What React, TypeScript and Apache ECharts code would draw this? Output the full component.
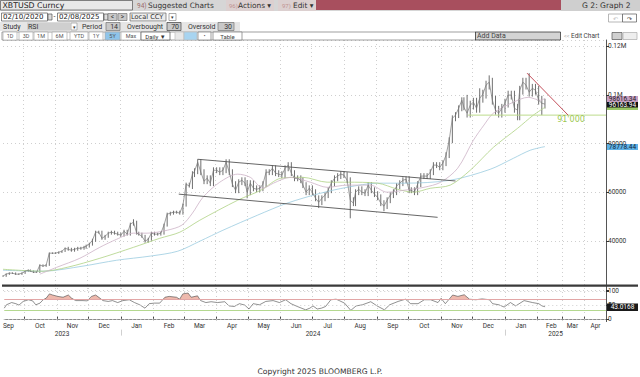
import React, { useEffect, useRef } from "react";
import * as echarts from "echarts";

// Prices are read in thousands of USD
const closes = [25.7,26.5,26.9,26.9,26.5,26.5,26.9,27.7,28.1,27.7,27.3,27.3,30.2,29.8,30.2,35.1,35.1,35.1,35.5,35.9,37.1,36.7,36.3,36.7,37.1,37.1,37.5,38,38.8,40.4,43.7,43.7,41.2,42,43.3,43.7,43.3,42.9,42.5,44.1,42.9,47,47.8,43.3,42.9,42,40,40.8,43.3,42.9,42.9,43.3,46.6,51.1,51.5,51.9,51.9,51.5,54.8,63.4,62.6,67.5,68.7,72.4,68.3,64.6,65.8,63.8,69.1,69.1,68.3,69.1,72.4,68.3,63.4,60.9,64.2,65,63.8,60.1,63.8,61.7,61.3,61.7,63.4,68.3,68.3,69.9,67.9,67.5,67.1,69.9,71.2,67.9,65.8,65.8,65,63,60.1,61.7,60.1,57.6,56,57.6,58.9,60.9,63.8,65.8,66.7,67.5,67.1,65,56.8,55.6,60.1,61.3,60.1,59.7,63,60.9,59.3,58,55.6,54.4,56.8,58.9,60.1,62.6,63.8,65,65.4,60.9,60.9,60.1,63.4,66.7,66.7,66.7,68.3,71.2,71.2,70.3,72,75.3,81.4,90.4,91.7,94.5,97.8,94.9,92.5,95.8,97,94.5,98.6,100.3,104,105.2,97.8,93.7,92.5,94.5,96.6,99.9,99.9,94.5,93.7,101.9,105.2,104,101.1,102.7,101.9,97.8,96.6,96.2];
const lastPriceDay = 515;
// wick length, by stretch of the chart: [first day, thousands]
const wickStretches = [[0,0.3],[60,0.6],[180,1.2],[440,1.8]];
// extremes that stand out: [day, low or high, thousands]
const spikes: [number,"low"|"high",number][] = [[330,"low",49.4],[233,"low",57.6],[299,"low",53.6],[363,"low",52.3],[511,"low",91.7],[490,"low",89.6],[499,"high",108.9],[463,"high",108],[452,"high",102.7],[440,"high",100],[123,"high",49],[184,"high",73.2],[211,"high",73.2]];

const ma50: [number,number][] = [[35,26.5],[51,29.3],[73,33],[92,37.5],[108,40.8],[124,43.3],[137,43.3],[156,44.5],[170,46.6],[180,51.5],[190,58],[206,64.2],[223,67.5],[235,66.2],[247,61.7],[257,63.8],[273,66.2],[292,64.2],[308,62.1],[327,63],[349,63],[365,60.1],[381,60.9],[400,62.1],[416,64.2],[432,69.9],[447,81.4],[457,87.6],[466,92.5],[485,97],[499,99],[511,97.8],[515,98.6]];
const ma100: [number,number][] = [[0,28.5],[38,27.7],[61,29.3],[92,33],[124,37.5],[149,41.2],[168,43.7],[187,48.6],[223,56.8],[245,60.9],[264,65.8],[285,66.2],[308,64.2],[327,64.2],[356,63.8],[375,61.3],[390,60.1],[406,61.7],[425,63],[444,69.1],[466,78.5],[489,86.3],[504,91.7],[515,94.9]];
const ma200: [number,number][] = [[0,28.1],[38,27.7],[76,29.8],[108,32.2],[140,33.9],[166,35.9],[187,40],[209,44.5],[242,50.7],[270,55.6],[302,59.7],[327,62.1],[356,63.8],[381,63.8],[425,65],[463,69.5],[485,74],[501,77.3],[515,78.8]];

const channelTop: [number,number][] = [[185,73.6],[430,64.7]];
const channelBottom: [number,number][] = [[167,59.3],[413,49.8]];
const redTrend: [number,number][] = [[498,108.9],[537,91.7]];
const supportLine: [number,number][] = [[442,91.7],[573,91.7]];

const rsi: [number,number][] = [[0,38],[2,50],[7,58],[11,54],[14,49],[18,62],[23,68],[27,64],[30,50],[34,56],[37,68],[40,74],[43,89],[46,85],[51,80],[56,77],[61,85],[64,74],[68,65],[75,65],[79,64],[83,80],[87,85],[91,74],[94,65],[99,62],[103,65],[108,58],[113,65],[119,68],[124,58],[129,50],[134,38],[138,54],[143,56],[148,56],[153,77],[157,80],[164,77],[167,70],[170,89],[175,92],[178,77],[184,82],[187,65],[192,58],[197,61],[203,58],[210,61],[214,46],[219,44],[224,54],[229,49],[233,35],[237,54],[243,50],[249,62],[256,65],[262,58],[268,68],[273,54],[279,44],[287,32],[291,38],[294,46],[298,35],[302,38],[306,44],[311,68],[316,70],[319,65],[324,56],[330,30],[335,46],[341,50],[349,61],[355,46],[362,32],[367,50],[375,62],[382,70],[387,54],[394,54],[400,68],[406,68],[413,58],[416,73],[420,54],[427,85],[432,80],[438,86],[443,70],[449,68],[455,71],[462,68],[465,54],[471,50],[476,42],[482,58],[487,46],[495,65],[503,58],[509,54],[512,46],[515,43]];

const yearLabels: Record<string,string> = { "2023-11-06": "2023", "2024-07-02": "2024", "2025-02-21": "2025" };
const monthNames = ["Jan","Feb","Mar","Apr","May","Jun","Jul","Aug","Sep","Oct","Nov","Dec"];
const FONT = "Roboto";

// Daily calendar up to the last bar, then weekdays only, as the terminal draws the future
const categories: string[] = [];
{
  let t = Date.UTC(2023, 8, 12);
  const lastBar = Date.UTC(2025, 1, 8);
  while (categories.length < 574) {
    const d = new Date(t);
    if (t <= lastBar || (d.getUTCDay() !== 0 && d.getUTCDay() !== 6)) categories.push(d.toISOString().slice(0, 10));
    t += 86400000;
  }
}
const monthStart = new Set<number>();
const monthMid = new Set<number>();
{
  let seen = "";
  categories.forEach((c, i) => {
    const m = c.slice(0, 7);
    if (i > 0 && c.slice(0, 7) !== categories[i - 1].slice(0, 7)) monthStart.add(i);
    if (m !== seen && +c.slice(8) >= 16) { monthMid.add(i); seen = m; }
  });
}
const yearStart = new Set<number>(categories.map((c, i) => (c.endsWith("-01-01") ? i : -1)).filter((i) => i >= 0));
const k = (p: [number, number][]) => p.map(([d, v]) => [d, v * 1000]);

const bars = closes.map((c, i) => {
  const day = Math.round((i * lastPriceDay) / (closes.length - 1));
  const prev = i > 0 ? closes[i - 1] : c;
  let wick = 0;
  wickStretches.forEach(([from, w]) => { if (day >= from) wick = w; });
  let low = Math.min(c, prev) - wick;
  let high = Math.max(c, prev) + wick;
  const step = lastPriceDay / (closes.length - 1);
  spikes.forEach(([d, kind, v]) => {
    if (Math.abs(d - day) <= step / 2) { if (kind === "low") low = Math.min(low, v); else high = Math.max(high, v); }
  });
  return [day, low * 1000, high * 1000, c * 1000];
});

// the part of the RSI over its overbought level, closed at the level
const overbought: [number, number][] = [];
rsi.forEach(([d, v], i) => {
  if (i > 0) {
    const [pd, pv] = rsi[i - 1];
    if ((pv - 70) * (v - 70) < 0) overbought.push([Math.round(pd + ((70 - pv) / (v - pv)) * (d - pd)), 70]);
  }
  overbought.push([d, Math.max(v, 70)]);
});

const DV = { fontFamily: "DejaVu Sans" };
const txt = (x: number, y: number, text: string, fontSize = 6.5, fill = "#333", align = "left", extra: any = {}) => ({
  type: "text", z: 50, style: { x, y, text, fontSize, fill, fontFamily: FONT, textAlign: align, textVerticalAlign: "middle", ...extra },
});
const box = (x: number, y: number, width: number, height: number, fill: string, stroke?: string) => ({
  type: "rect", z: 49, shape: { x, y, width, height }, style: { fill, stroke: stroke || undefined, lineWidth: 0.7 },
});

const rangeButtons: [string, number, number][] = [["1D",3,14],["3D",19,14],["1M",34,14],["6M",52,15],["YTD",70,18],["1Y",89,14],["5Y",105,15],["Max",121,20]];

const header = [
  box(0, 0, 640, 11, "#d6d6d6"),
  box(0.5, 0.5, 132, 9.5, "#e8e8e8", "#555"),
  txt(2.5, 5.5, "XBTUSD Curncy", 7.8, "#222", "left", DV),
  txt(137, 5.5, "94)", 6.5, "#9a6a6a"),
  txt(148, 5, "Suggested Charts", 7.4, "#333", "left", DV),
  box(226, 0, 48, 11, "#dcd0d0"),
  txt(229, 5.5, "96)", 6, "#c09090"),
  txt(238, 5, "Actions ▾", 7.4, "#333", "left", DV),
  box(278, 0, 38, 11, "#dcd0d0"),
  txt(282, 5.5, "97)", 6, "#c09090"),
  txt(293, 5, "Edit ▾", 7.4, "#333", "left", DV),
  box(316, 0, 245, 10, "#a84f5e"),
  box(561, 0, 79, 11, "#cfcfcf"),
  txt(582, 5, "G 2: Graph 2", 7.6, "#333", "left", DV),
  box(1.5, 13, 46, 8, "#fff", "#555"),
  txt(3, 17, "02/10/2020", 7, "#222", "left", DV),
  box(48, 14, 4, 6, "#ddd", "#555"),
  txt(53.5, 17, "-", 7),
  box(57.5, 13, 46, 8, "#fff", "#555"),
  txt(59, 17, "02/08/2025", 7, "#222", "left", DV),
  box(104, 14, 4, 6, "#ddd", "#555"),
  box(108, 13.5, 9, 7, "#c8c8c8", "#777"),
  txt(112.5, 17, "<", 6.5, "#333", "center"),
  box(118, 13.5, 9, 7, "#c8c8c8", "#777"),
  txt(122.5, 17, ">", 6.5, "#333", "center"),
  box(130, 13, 36, 8, "#ececec", "#666"),
  txt(131, 17, "Local CCY", 6.6, "#333", "left", DV),
  box(169, 13.5, 7, 7, "#fff", "#888"),
  txt(172.5, 17, "▾", 5, "#333", "center"),
  box(0, 22, 240, 9, "#e6e6e6"),
  txt(3, 26.5, "Study", 7),
  box(27, 22.5, 43, 8, "#cfcfcf"),
  txt(28, 26.5, "RSI", 7),
  box(71, 23, 6, 7, "#fff", "#999"),
  txt(74, 26.5, "▾", 5, "#333", "center"),
  txt(82, 26.5, "Period", 7),
  box(106, 22.5, 14, 8, "#c8c8c8", "#777"),
  txt(118, 26.5, "14", 7, "#333", "right"),
  txt(127, 26.5, "Overbought", 7),
  box(167, 22.5, 14, 8, "#c8c8c8", "#444"),
  txt(179, 26.5, "70", 7, "#333", "right"),
  txt(188, 26.5, "Oversold", 7),
  box(218, 22.5, 16, 8, "#c8c8c8", "#777"),
  txt(232, 26.5, "30", 7, "#333", "right"),
  box(2, 32, 474, 8, "#fff", "#777"),
  ...rangeButtons.flatMap(([t, x, w]) => [
    box(x, 32, w, 8, t === "5Y" ? "#8ec4ea" : "#fff", "#aaa"),
    txt(x + w / 2, 36, t, 5.5, "#555", "center"),
  ]),
  box(141, 32, 29, 8, "#fff", "#555"),
  txt(155.5, 36, "Daily ▼", 6, "#333", "center"),
  box(175, 32, 9, 8, "#e8e8e8", "#bbb"),
  box(184, 32, 13, 8, "#a8d4f0", "#bbb"),
  box(198, 32, 13, 8, "#fff", "#777"),
  txt(204.5, 36, "•", 5, "#333", "center"),
  box(213, 32, 29, 8, "#fff", "#777"),
  txt(227.5, 36, "Table", 6, "#444", "center"),
  box(475.5, 32, 85, 8, "#d4d4d4", "#222"),
  txt(477, 36, "Add Data", 7, "#444"),
  txt(564, 36, "<<", 5.5, "#aaa"),
  txt(571, 36, "Edit Chart", 6.5, "#444"),
  box(612, 32.5, 10, 7, "#d0d0d0", "#555"),
  box(623, 32.5, 14, 7, "#eee", "#aaa"),
  box(608.5, 14, 14, 8, "#fff", "#999"),
  box(622.5, 14, 14, 8, "#fff", "#555"),
  txt(615.5, 18, "↶", 6, "#bbb", "center"),
  txt(629.5, 18, "↷", 6, "#333", "center"),
];

const tag = (y: number, h: number, fill: string, text: string, color: string) => ([
  box(607, y, 31, h, fill),
  txt(622.5, y + h / 2, text, 6.5, color, "center"),
]);
const overlays = [
  box(2, 284.5, 636, 2.2, "#3a3a3a"),
  txt(571, 119, "91'000", 8, "#9cc850", "center", DV),
  ...tag(96, 6, "#c79fc2", "98616.34", "#222"),
  box(607, 107, 31, 3, "#9ac766"),
  ...tag(102, 5.5, "#111", "96163.94", "#fff"),
  ...tag(144, 6, "#5fb2e6", "78778.44", "#123"),
  ...tag(303.5, 7.5, "#1a1a1a", "43.0168", "#fff"),
  txt(320, 371.5, "Copyright 2025 BLOOMBERG L.P.", 7.6, "#333", "center", DV),
];

const thinLine = (name: string, data: number[][], color: string, width = 0.8, smooth: boolean | number = 0.3) => ({
  name, type: "line", xAxisIndex: 0, yAxisIndex: 0, data, showSymbol: false, smooth, silent: true,
  lineStyle: { color, width },
});

const option: any = {
  animation: false,
  backgroundColor: "#fff",
  grid: [
    { left: 3, width: 603, top: 40, height: 250 },
    { left: 3, width: 603, top: 288, height: 33.6 },
  ],
  xAxis: [
    {
      type: "category", gridIndex: 0, data: categories, boundaryGap: false,
      axisLine: { show: false }, axisTick: { show: false }, axisLabel: { show: false },
      splitLine: { show: true, interval: (i: number) => monthStart.has(i), lineStyle: { type: [1, 3], color: "#cfcfcf", width: 1 } },
    },
    {
      type: "category", gridIndex: 1, data: categories, boundaryGap: false,
      axisLine: { show: true, lineStyle: { color: "#8a8a8a", width: 1.2 } },
      axisTick: { show: true, inside: true, length: 2, alignWithLabel: true, interval: (i: number) => monthStart.has(i), lineStyle: { color: "#444" } },
      axisLabel: { show: false },
      splitLine: { show: true, interval: (i: number) => monthStart.has(i), lineStyle: { type: [1, 3], color: "#cfcfcf", width: 1 } },
    },
    {
      type: "category", gridIndex: 1, position: "bottom", data: categories, boundaryGap: false,
      axisLine: { show: false }, axisTick: { show: false },
      axisLabel: {
        show: true, margin: 1, interval: (i: number) => monthMid.has(i), hideOverlap: false,
        formatter: (v: string) => monthNames[+v.slice(5, 7) - 1], fontSize: 6.5, color: "#333", fontFamily: FONT,
      },
    },
    {
      type: "category", gridIndex: 1, position: "bottom", offset: 8, data: categories, boundaryGap: false,
      axisLine: { show: false },
      axisTick: { show: true, length: 6, alignWithLabel: true, interval: (i: number) => yearStart.has(i), lineStyle: { color: "#d0d0d0" } },
      axisLabel: {
        show: true, margin: 1, interval: (_: number, v: string) => v in yearLabels, hideOverlap: false,
        formatter: (v: string) => yearLabels[v] || "", fontSize: 6.5, color: "#333", fontFamily: FONT,
      },
    },
  ],
  yAxis: [
    {
      type: "value", gridIndex: 0, position: "right", min: 20000, max: 122500, interval: 20000,
      axisLine: { show: true, lineStyle: { color: "#555" } },
      axisTick: { show: true, length: 3, lineStyle: { color: "#333" } },
      axisLabel: {
        margin: 2, fontSize: 6.5, color: "#333", fontFamily: FONT,
        formatter: (v: number) => (v === 20000 ? "" : v >= 100000 ? `${v / 1e6}M` : `${v}`),
      },
      splitLine: { show: true, lineStyle: { type: [1, 3], color: "#cfcfcf" } },
    },
    {
      type: "value", gridIndex: 1, position: "right", min: -10, max: 110, interval: 10,
      axisLine: { show: true, lineStyle: { color: "#555" } },
      axisTick: { show: true, length: 3, customValues: [0, 50, 100], lineStyle: { color: "#333" } },
      axisLabel: { margin: 2, fontSize: 6.5, color: "#333", fontFamily: FONT, customValues: [0, 50, 100], formatter: (v: number) => `${v}` },
      splitLine: { show: false },
    },
  ],
  series: [
    thinLine("SMA 200", k(ma200), "#9acbe0"),
    thinLine("SMA 100", k(ma100), "#aed284"),
    thinLine("SMA 50", k(ma50), "#cdb3c6"),
    thinLine("Channel top", k(channelTop), "#555", 0.9, false),
    thinLine("Channel bottom", k(channelBottom), "#555", 0.9, false),
    thinLine("Support", k(supportLine), "#bcdc8c", 1, false),
    thinLine("Trend", k(redTrend), "#c4505c", 1, false),
    {
      name: "XBTUSD close", type: "line", xAxisIndex: 0, yAxisIndex: 0,
      data: bars.map((b) => [b[0], b[3]]), showSymbol: false, silent: true,
      lineStyle: { color: "#777", width: 0.7 },
    },
    {
      name: "XBTUSD range", type: "custom", xAxisIndex: 0, yAxisIndex: 0, silent: true,
      encode: { x: 0, y: [1, 2] }, data: bars,
      renderItem: (_: any, api: any) => {
        const a = api.coord([api.value(0), api.value(1)]);
        const b = api.coord([api.value(0), api.value(2)]);
        return { type: "line", shape: { x1: a[0], y1: a[1], x2: b[0], y2: b[1] }, style: { stroke: "#4a4a4a", lineWidth: 0.8 } };
      },
    },
    {
      name: "Overbought", type: "line", xAxisIndex: 1, yAxisIndex: 1, data: overbought, showSymbol: false, silent: true,
      lineStyle: { width: 0, opacity: 0 }, areaStyle: { color: "#eeb9ad", opacity: 1, origin: 70 },
    },
    {
      name: "RSI", type: "line", xAxisIndex: 1, yAxisIndex: 1, data: rsi, showSymbol: false, silent: true,
      lineStyle: { color: "#444", width: 0.6 },
      markLine: {
        silent: true, symbol: "none", label: { show: false },
        data: [
          { yAxis: 70, lineStyle: { color: "#e2a6a6", width: 1, type: "solid" } },
          { yAxis: 30, lineStyle: { color: "#b4d890", width: 1, type: "solid" } },
          { yAxis: 100, lineStyle: { color: "#cfcfcf", width: 1, type: [1, 3] } },
          { yAxis: 50, lineStyle: { color: "#cfcfcf", width: 1, type: [1, 3] } },
          { yAxis: 0, lineStyle: { color: "#cfcfcf", width: 1, type: [1, 3] } },
        ],
      },
    },
  ],
  graphic: [...header, ...overlays],
};

export default function App() {
  const ref = useRef<HTMLDivElement>(null);
  useEffect(() => {
    document.body.style.margin = "0";
    const chart = echarts.init(ref.current!, null, { renderer: "svg" });
    chart.setOption(option);
    return () => chart.dispose();
  }, []);
  return <div ref={ref} style={{ width: 640, height: 377 }} />;
}
